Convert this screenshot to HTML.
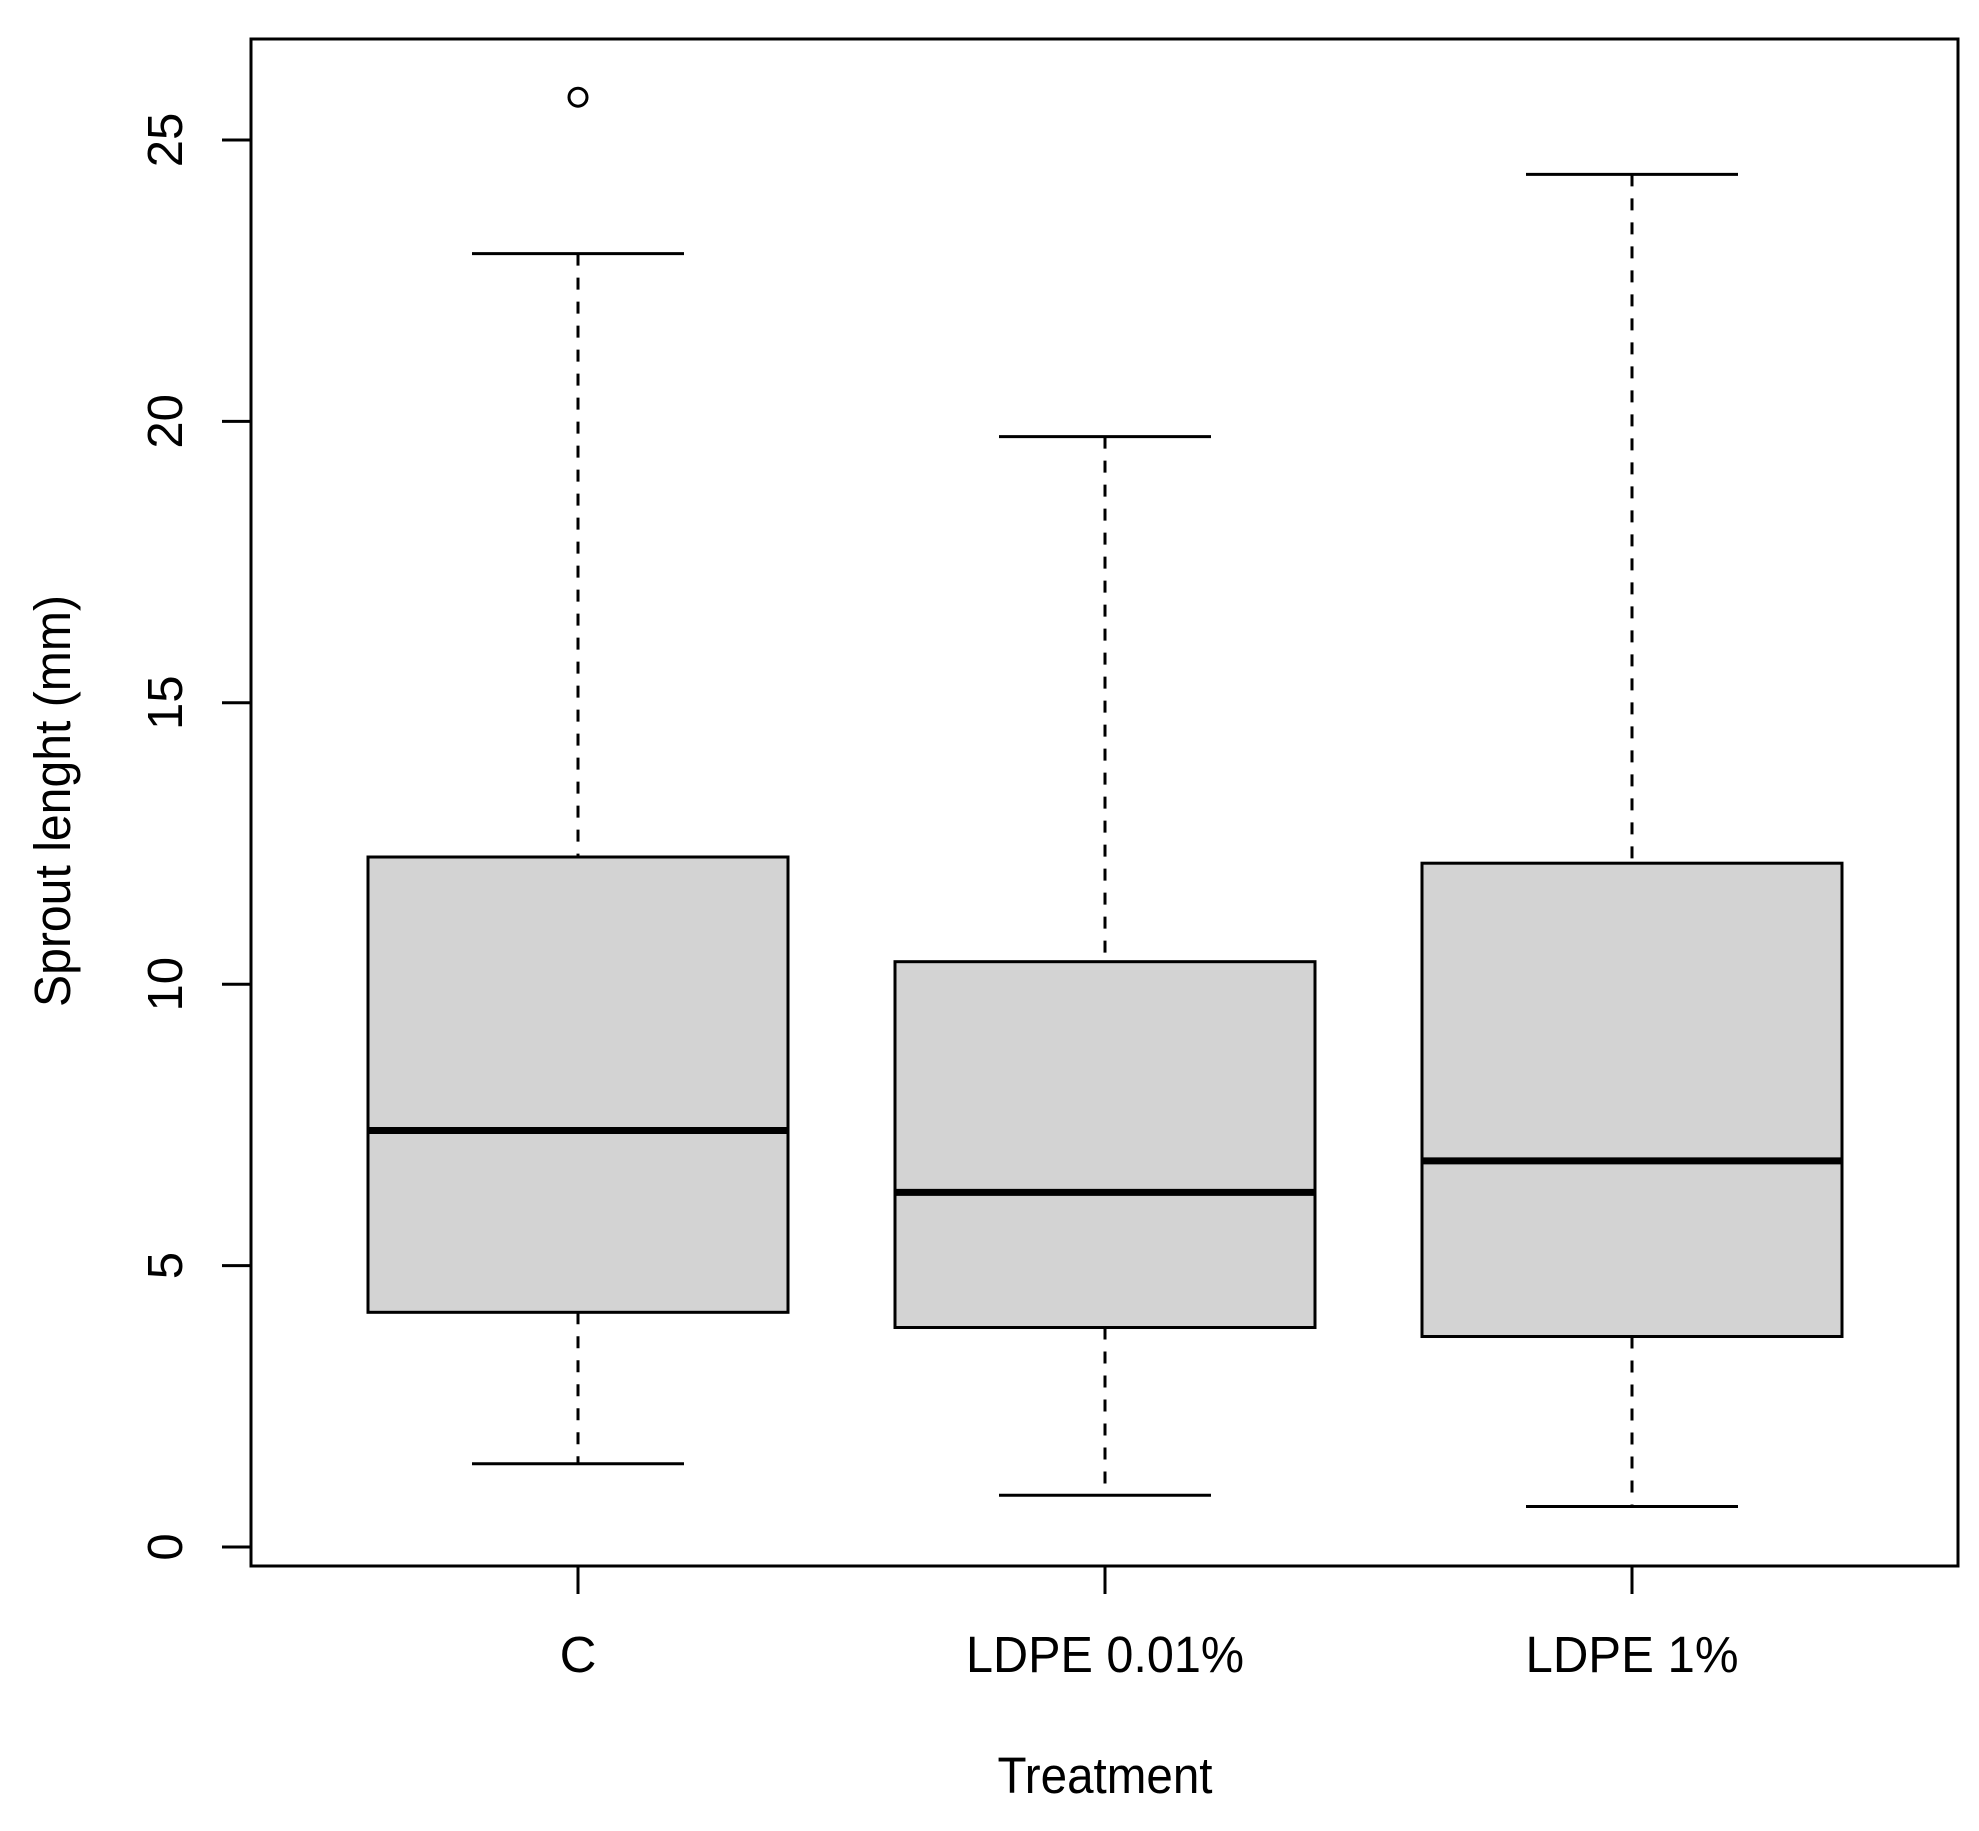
<!DOCTYPE html>
<html><head><meta charset="utf-8"><style>
html,body{margin:0;padding:0;background:#fff}
svg text{font-family:"Liberation Sans",Arial,sans-serif;fill:#000}
</style></head><body>
<svg id="chart" width="1979" height="1826" viewBox="0 0 1979 1826" xmlns="http://www.w3.org/2000/svg">
<rect x="0" y="0" width="1979" height="1826" fill="#fff"/>
<g id="marks"></g>
<rect x="251" y="39" width="1707" height="1527" fill="none" stroke="#000" stroke-width="3"/>
<g id="axes"></g>
<text x="1105" y="1793" font-size="51" text-anchor="middle" textLength="215" lengthAdjust="spacingAndGlyphs">Treatment</text>
<text transform="translate(70,801) rotate(-90)" font-size="51" text-anchor="middle" textLength="412" lengthAdjust="spacingAndGlyphs">Sprout lenght (mm)</text>
</svg>
<script>
const categories = ["C", "LDPE 0.01%", "LDPE 1%"];
const whiskerLow = [1.48, 0.92, 0.72];
const q1 = [4.17, 3.90, 3.74];
const medians = [7.40, 6.30, 6.86];
const q3 = [12.26, 10.40, 12.15];
const whiskerHigh = [22.98, 19.73, 24.39];
const outlierGroup = [0];
const outlierValues = [25.76];
const yTicks = [0, 5, 10, 15, 20, 25];
const labelWidths = [0, 278, 213];

const NS = "http://www.w3.org/2000/svg";
function yScale(v){ return 1547 - v * 56.28; }
function xScale(i){ return 578 + i * 527; }
const boxHalf = 210, capHalf = 106;
const marks = document.getElementById('marks');
const axes = document.getElementById('axes');
function mk(tag, attrs, parent){
  const el = document.createElementNS(NS, tag);
  for (const k in attrs) el.setAttribute(k, attrs[k]);
  parent.appendChild(el);
  return el;
}
categories.forEach((c, i) => {
  const cx = xScale(i);
  let el;
  el = mk('line', {x1: cx, x2: cx, y1: yScale(whiskerHigh[i]), y2: yScale(q3[i]), stroke: '#000', 'stroke-width': 3, 'stroke-dasharray': '12,12'}, marks);
  
  
  el = mk('line', {x1: cx, x2: cx, y1: yScale(q1[i]), y2: yScale(whiskerLow[i]), stroke: '#000', 'stroke-width': 3, 'stroke-dasharray': '12,12'}, marks);
  
  
  el = mk('line', {x1: cx - capHalf, x2: cx + capHalf, y1: yScale(whiskerHigh[i]), y2: yScale(whiskerHigh[i]), stroke: '#000', 'stroke-width': 3}, marks);
  
  
  el = mk('line', {x1: cx - capHalf, x2: cx + capHalf, y1: yScale(whiskerLow[i]), y2: yScale(whiskerLow[i]), stroke: '#000', 'stroke-width': 3}, marks);
  
  
  el = mk('rect', {x: cx - boxHalf, y: yScale(q3[i]), width: 2 * boxHalf, height: yScale(q1[i]) - yScale(q3[i]), fill: '#d3d3d3', stroke: '#000', 'stroke-width': 3}, marks);
  
  
  el = mk('line', {x1: cx - boxHalf, x2: cx + boxHalf, y1: yScale(medians[i]), y2: yScale(medians[i]), stroke: '#000', 'stroke-width': 7}, marks);
  
  
  el = mk('line', {x1: cx, x2: cx, y1: 1566, y2: 1594, stroke: '#000', 'stroke-width': 3}, axes);
  
  
  const attrs = {x: cx, y: 1672, 'font-size': 51, 'text-anchor': 'middle'};
  if (labelWidths[i]) { attrs.textLength = labelWidths[i]; attrs.lengthAdjust = 'spacingAndGlyphs'; }
  el = mk('text', attrs, axes);
  el.textContent = c;
  
  
});
outlierValues.forEach((v, j) => {
  const el = mk('circle', {cx: xScale(outlierGroup[j]), cy: yScale(v), r: 9, fill: 'none', stroke: '#000', 'stroke-width': 3}, marks);
  
  
});
yTicks.forEach(t => {
  let el = mk('line', {x1: 222, x2: 251, y1: yScale(t), y2: yScale(t), stroke: '#000', 'stroke-width': 3}, axes);
  
  
  el = mk('text', {transform: 'translate(182,' + yScale(t) + ') rotate(-90)', 'font-size': 49, 'text-anchor': 'middle'}, axes);
  el.textContent = String(t);
  
  
});
</script>
</body></html>
